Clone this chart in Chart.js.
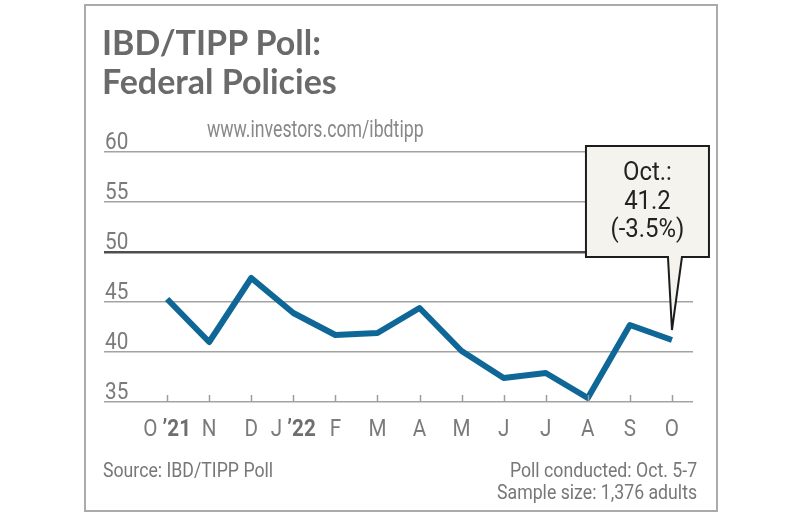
<!DOCTYPE html>
<html>
<head>
<meta charset="utf-8">
<script src="https://cdn.jsdelivr.net/npm/chart.js@4.4.0/dist/chart.umd.min.js"></script>
<style>
  body { margin: 0; background: #fff; }
  #wrap { position: relative; width: 798px; height: 516px; overflow: hidden; }
  #chart { position: absolute; left: 0; top: 0; }
  .frame { position: absolute; left: 84px; top: 4px; width: 634px; height: 508px; box-sizing: border-box; border: 2px solid #ababab; }
  .title { position: absolute; left: 102px; top: 22px; font: bold 34px Lato, sans-serif; line-height: 39px; color: #6a6a6a; white-space: nowrap; }
  .url { position: absolute; left: 207px; top: 119px; font: 23px Roboto, sans-serif; line-height: 22px; color: #888; white-space: nowrap; transform: scaleX(0.77); transform-origin: left; }
  .src { position: absolute; left: 103px; top: 459px; font: 20px Roboto, sans-serif; line-height: 22px; color: #777; white-space: nowrap; transform: scaleX(0.885); transform-origin: left; }
  .note { position: absolute; right: 101px; top: 459px; font: 20px Roboto, sans-serif; line-height: 22px; color: #777; text-align: right; white-space: nowrap; transform: scaleX(0.885); transform-origin: right; }
</style>
</head>
<body>
<div id="wrap">
  <div class="frame"></div>
  <canvas id="chart" width="798" height="516"></canvas>
  <div class="title">IBD/TIPP Poll:<br>Federal Policies</div>
  <div class="url">www.investors.com/ibdtipp</div>
  <div class="src">Source: IBD/TIPP Poll</div>
  <div class="note">Poll conducted: Oct. 5-7<br>Sample size: 1,376 adults</div>
</div>
<script>
const months = ["O", "N", "D", "J", "F", "M", "A", "M", "J", "J", "A", "S", "O"];
const yearTags = ["’21", "", "", "’22", "", "", "", "", "", "", "", "", ""];
const pollValues = [45.3, 41.0, 47.4, 43.9, 41.7, 41.9, 44.4, 40.1, 37.4, 37.9, 35.4, 42.7, 41.2];
const yTicks = [35, 40, 45, 50, 55, 60];
const calloutLines = ["Oct.:", "41.2", "(-3.5%)"];

// squeezed text, roughly like a condensed face
function drawText(ctx, str, x, y, font, color, sx) {
    ctx.save();
    ctx.font = font;
    ctx.fillStyle = color;
    ctx.textBaseline = 'alphabetic';
    ctx.textAlign = 'left';
    ctx.translate(x, y);
    ctx.scale(sx, 1);
    ctx.fillText(str, 0, 0);
    ctx.restore();
}

const decor = {
    id: 'decor',
    afterDraw(chart) {
        const ctx = chart.ctx;
        const xs = chart.scales.x;
        const ys = chart.scales.y;
        const base = ys.getPixelForValue(yTicks[0]);

        // small ticks rising from the baseline
        ctx.save();
        ctx.strokeStyle = '#9c9c9c';
        ctx.lineWidth = 1.5;
        months.forEach((m, i) => {
            const px = Math.round(xs.getPixelForValue(i)) + 0.5;
            ctx.beginPath();
            ctx.moveTo(px, base - 7);
            ctx.lineTo(px, base);
            ctx.stroke();
        });
        ctx.restore();

        // month labels, year part in bold
        const sx = 0.86;
        months.forEach((m, i) => {
            const px = xs.getPixelForValue(i);
            ctx.font = '24px Roboto';
            const first = yearTags[i] ? m + ' ' : m;
            const w1 = ctx.measureText(first).width;
            ctx.font = 'bold 24px Roboto';
            const w2 = yearTags[i] ? ctx.measureText(yearTags[i]).width : 0;
            const left = px - (w1 + w2) * sx / 2;
            drawText(ctx, first, left, base + 34, '24px Roboto', '#7b7b7b', sx);
            if (yearTags[i]) {
                drawText(ctx, yearTags[i], left + w1 * sx, base + 34, 'bold 24px Roboto', '#6e6e6e', sx);
            }
        });

        // y labels sitting on their gridlines
        yTicks.forEach(v => {
            drawText(ctx, String(v), xs.left + 1, ys.getPixelForValue(v) - 3, '23px Roboto', '#7b7b7b', 0.9);
        });

        // callout pointing at the last point
        const n = pollValues.length - 1;
        const tipX = xs.getPixelForValue(n);
        const tipY = ys.getPixelForValue(pollValues[n]) - 10;
        const bl = tipX - 86, br = tipX + 37, bt = tipY - 184, bb = tipY - 73;
        ctx.save();
        ctx.beginPath();
        ctx.moveTo(bl, bt);
        ctx.lineTo(br, bt);
        ctx.lineTo(br, bb);
        ctx.lineTo(tipX + 10, bb);
        ctx.lineTo(tipX, tipY);
        ctx.lineTo(tipX - 4, bb);
        ctx.lineTo(bl, bb);
        ctx.closePath();
        ctx.fillStyle = '#f5f3ed';
        ctx.fill();
        ctx.strokeStyle = '#1c1c1c';
        ctx.lineWidth = 2;
        ctx.lineJoin = 'miter';
        ctx.stroke();
        ctx.restore();

        const cx = (bl + br) / 2;
        calloutLines.forEach((t, k) => {
            ctx.font = '26px Roboto';
            const w = ctx.measureText(t).width * 0.92;
            drawText(ctx, t, cx - w / 2, bt + 34 + k * 28.5, '26px Roboto', '#222', 0.92);
        });
    }
};

new Chart(document.getElementById('chart'), {
    type: 'line',
    data: {
        datasets: [{
            data: pollValues.map((v, i) => ({x: i, y: v})),
            borderColor: '#0f6798',
            borderWidth: 6,
            borderJoinStyle: 'round',
            pointRadius: 0,
            tension: 0,
            clip: false
        }]
    },
    options: {
        responsive: false,
        devicePixelRatio: 1,
        animation: false,
        layout: {padding: {left: 104, right: 105, top: 152, bottom: 114}},
        plugins: {legend: {display: false}, tooltip: {enabled: false}},
        scales: {
            x: {
                type: 'linear',
                display: false,
                min: -1.5,
                max: 12.5
            },
            y: {
                min: 35,
                max: 60,
                afterBuildTicks: (axis) => { axis.ticks = yTicks.map(v => ({value: v})); },
                ticks: {display: false},
                border: {display: false},
                grid: {
                    drawTicks: false,
                    color: (c) => c.tick && c.tick.value === 50 ? '#4e4e4e' : '#a3a3a3',
                    lineWidth: (c) => c.tick && c.tick.value === 50 ? 2.5 : 1.5
                }
            }
        }
    },
    plugins: [decor]
});
</script>
</body>
</html>
